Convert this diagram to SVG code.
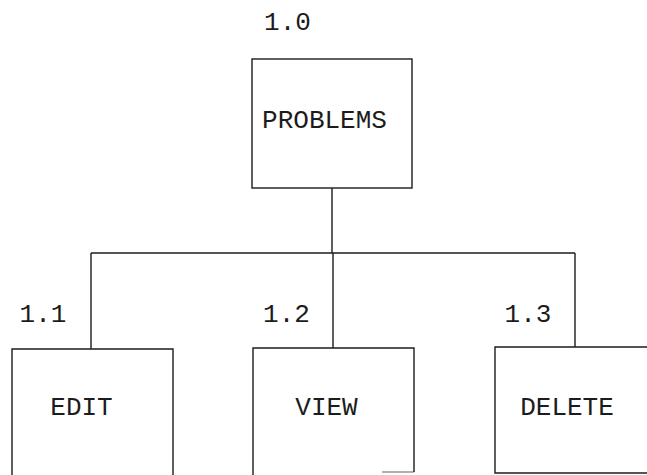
<svg xmlns="http://www.w3.org/2000/svg" width="647" height="475" viewBox="0 0 647 475">
  <style>
    .box { fill: none; stroke: #1c1c1c; stroke-width: 1.4; }
    .wire { fill: none; stroke: #1c1c1c; stroke-width: 1.4; }
    .lbl { font-family: "Liberation Mono", "DejaVu Sans Mono", monospace; font-size: 26px; fill: #1c1c1c; text-anchor: middle; }
  </style>
  <rect width="647" height="475" fill="#ffffff"/>

  <!-- tree connectors -->
  <g id="connectors">
    <path class="wire" d="M332 188 V253"/>
    <path class="wire" d="M91 253 H575"/>
    <path class="wire" d="M91 253 V349"/>
    <path class="wire" d="M333 253 V348"/>
    <path class="wire" d="M575 253 V347"/>
  </g>

  <!-- 1.0 root -->
  <g id="node-problems">
    <text class="lbl" x="287.5" y="30">1.0</text>
    <rect class="box" x="252" y="59" width="160" height="129"/>
    <text class="lbl" x="324.5" y="128">PROBLEMS</text>
  </g>

  <!-- 1.1 -->
  <g id="node-edit">
    <text class="lbl" x="43" y="322">1.1</text>
    <path class="box" d="M12 480 V349 H173 V480"/>
    <text class="lbl" x="81.5" y="415">EDIT</text>
  </g>

  <!-- 1.2 -->
  <g id="node-view">
    <text class="lbl" x="286.5" y="322">1.2</text>
    <path class="box" d="M253 480 V348 H414 V472"/>
    <path class="box" d="M382 472 H414" stroke-opacity="0.5"/>
    <text class="lbl" x="326.5" y="415">VIEW</text>
  </g>

  <!-- 1.3 -->
  <g id="node-delete">
    <text class="lbl" x="528" y="322">1.3</text>
    <path class="box" d="M652 347 H495 V473 H652"/>
    <text class="lbl" x="567" y="415">DELETE</text>
  </g>
</svg>
